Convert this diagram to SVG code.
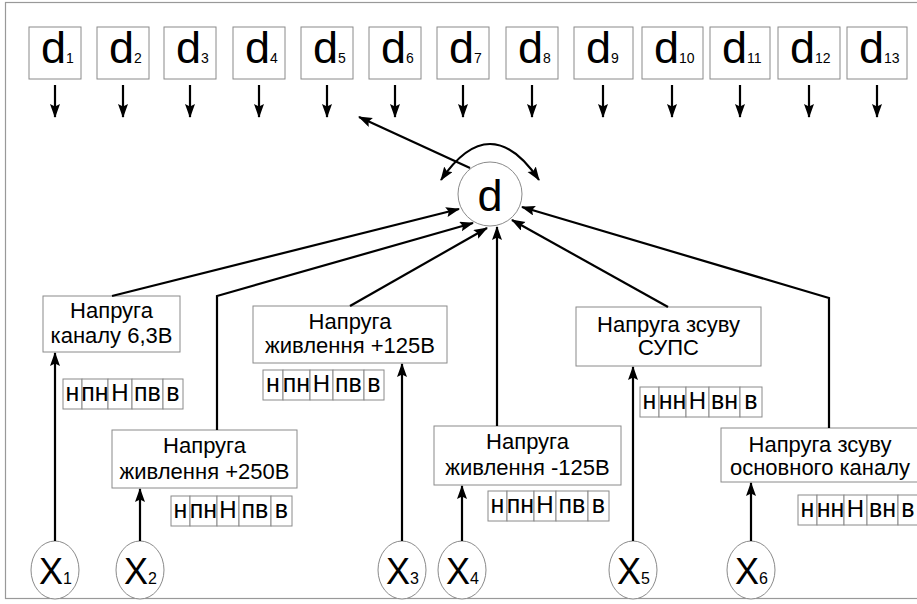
<svg xmlns="http://www.w3.org/2000/svg" width="917" height="604" viewBox="0 0 917 604">
<style>
.frame{fill:#fff;stroke:#999;stroke-width:1.2}
.box{fill:#fff;stroke:#8a8a8a;stroke-width:1}
.cell{fill:#fff;stroke:#8a8a8a;stroke-width:1}
.con{fill:none;stroke:#000;stroke-width:2.2}
.t{font-family:"Liberation Sans",Arial,sans-serif;fill:#000}
.bt{font-size:22px;text-anchor:middle}
.ct{font-size:25px;text-anchor:middle}
.cH{font-size:24px;text-anchor:middle}
.dl{font-size:45px}
.ds{font-size:14px}
.xl{font-size:36px}
.xs{font-size:16px}
</style>
<defs>
<marker id="ah" markerWidth="15" markerHeight="11" refX="13" refY="5" orient="auto-start-reverse" markerUnits="userSpaceOnUse" viewBox="0 0 15 11">
<path d="M0,0 L14,5 L0,10 L2.5,5 Z" fill="#000"/>
</marker>
</defs>
<rect class="frame" x="5.5" y="2.5" width="930" height="596"/>

<g id="d1"><rect class="box" x="29" y="27" width="52" height="52"/><text class="t" x="41" y="63"><tspan class="dl">d</tspan><tspan class="ds">1</tspan></text></g>
<g id="d2"><rect class="box" x="97" y="27" width="52" height="52"/><text class="t" x="109" y="63"><tspan class="dl">d</tspan><tspan class="ds">2</tspan></text></g>
<g id="d3"><rect class="box" x="164" y="27" width="52" height="52"/><text class="t" x="176" y="63"><tspan class="dl">d</tspan><tspan class="ds">3</tspan></text></g>
<g id="d4"><rect class="box" x="233" y="27" width="52" height="52"/><text class="t" x="245" y="63"><tspan class="dl">d</tspan><tspan class="ds">4</tspan></text></g>
<g id="d5"><rect class="box" x="301" y="27" width="52" height="52"/><text class="t" x="313" y="63"><tspan class="dl">d</tspan><tspan class="ds">5</tspan></text></g>
<g id="d6"><rect class="box" x="369" y="27" width="52" height="52"/><text class="t" x="381" y="63"><tspan class="dl">d</tspan><tspan class="ds">6</tspan></text></g>
<g id="d7"><rect class="box" x="437" y="27" width="52" height="52"/><text class="t" x="449" y="63"><tspan class="dl">d</tspan><tspan class="ds">7</tspan></text></g>
<g id="d8"><rect class="box" x="506" y="27" width="52" height="52"/><text class="t" x="518" y="63"><tspan class="dl">d</tspan><tspan class="ds">8</tspan></text></g>
<g id="d9"><rect class="box" x="574" y="27" width="59" height="52"/><text class="t" x="586" y="63"><tspan class="dl">d</tspan><tspan class="ds">9</tspan></text></g>
<g id="d10"><rect class="box" x="642" y="27" width="61" height="52"/><text class="t" x="654" y="63"><tspan class="dl">d</tspan><tspan class="ds">10</tspan></text></g>
<g id="d11"><rect class="box" x="710" y="27" width="60" height="52"/><text class="t" x="722" y="63"><tspan class="dl">d</tspan><tspan class="ds">11</tspan></text></g>
<g id="d12"><rect class="box" x="778" y="27" width="62" height="52"/><text class="t" x="790" y="63"><tspan class="dl">d</tspan><tspan class="ds">12</tspan></text></g>
<g id="d13"><rect class="box" x="847" y="27" width="60" height="52"/><text class="t" x="859" y="63"><tspan class="dl">d</tspan><tspan class="ds">13</tspan></text></g>

<g id="d"><circle cx="490" cy="194" r="32" fill="#fff" stroke="#8a8a8a" stroke-width="1"/><text class="t dl" x="490" y="211" text-anchor="middle">d</text></g>

<g id="boxA"><rect class="box" x="43" y="296" width="137" height="56"/><text class="t bt" x="111.5" y="318">Напруга</text><text class="t bt" x="111.5" y="343">каналу 6,3В</text></g>
<g id="boxB"><rect class="box" x="112" y="430" width="185" height="58"/><text class="t bt" x="204.5" y="453">Напруга</text><text class="t bt" x="204.5" y="479">живлення +250В</text></g>
<g id="boxC"><rect class="box" x="253" y="306" width="194" height="57"/><text class="t bt" x="350" y="329">Напруга</text><text class="t bt" x="350" y="353">живлення +125В</text></g>
<g id="boxD"><rect class="box" x="434" y="426" width="187" height="59"/><text class="t bt" x="527.5" y="449">Напруга</text><text class="t bt" x="527.5" y="475">живлення -125В</text></g>
<g id="boxE"><rect class="box" x="576" y="307" width="185" height="59"/><text class="t bt" x="668.5" y="332">Напруга зсуву</text><text class="t bt" x="668.5" y="355">СУПС</text></g>
<g id="boxF"><rect class="box" x="721" y="428" width="200" height="54"/><text class="t bt" x="820" y="452">Напруга зсуву</text><text class="t bt" x="820" y="475">основного каналу</text></g>

<g id="scaleA"><rect class="cell" x="63" y="379" width="19" height="30"/><rect class="cell" x="82" y="379" width="26" height="30"/><rect class="cell" x="108" y="379" width="24" height="30"/><rect class="cell" x="132" y="379" width="31" height="30"/><rect class="cell" x="163" y="379" width="20" height="30"/>
<text class="t ct" x="72.5" y="401">н</text><text class="t ct" x="95" y="401">пн</text><text class="t cH" x="120" y="401">Н</text><text class="t ct" x="147.5" y="401">пв</text><text class="t ct" x="173" y="401">в</text></g>
<g id="scaleB"><rect class="cell" x="171" y="496" width="19" height="30"/><rect class="cell" x="190" y="496" width="27" height="30"/><rect class="cell" x="217" y="496" width="22" height="30"/><rect class="cell" x="239" y="496" width="32" height="30"/><rect class="cell" x="271" y="496" width="21" height="30"/>
<text class="t ct" x="180.5" y="518">н</text><text class="t ct" x="203.5" y="518">пн</text><text class="t cH" x="228" y="518">Н</text><text class="t ct" x="255" y="518">пв</text><text class="t ct" x="281.5" y="518">в</text></g>
<g id="scaleC"><rect class="cell" x="263" y="370" width="20" height="30"/><rect class="cell" x="283" y="370" width="27" height="30"/><rect class="cell" x="310" y="370" width="23" height="30"/><rect class="cell" x="333" y="370" width="31" height="30"/><rect class="cell" x="364" y="370" width="20" height="30"/>
<text class="t ct" x="273" y="392">н</text><text class="t ct" x="296.5" y="392">пн</text><text class="t cH" x="321.5" y="392">Н</text><text class="t ct" x="348.5" y="392">пв</text><text class="t ct" x="374" y="392">в</text></g>
<g id="scaleD"><rect class="cell" x="488" y="491" width="19" height="30"/><rect class="cell" x="507" y="491" width="27" height="30"/><rect class="cell" x="534" y="491" width="22" height="30"/><rect class="cell" x="556" y="491" width="32" height="30"/><rect class="cell" x="588" y="491" width="21" height="30"/>
<text class="t ct" x="497.5" y="513">н</text><text class="t ct" x="520.5" y="513">пн</text><text class="t cH" x="545" y="513">Н</text><text class="t ct" x="572" y="513">пв</text><text class="t ct" x="598.5" y="513">в</text></g>
<g id="scaleE"><rect class="cell" x="640" y="387" width="19" height="30"/><rect class="cell" x="659" y="387" width="27" height="30"/><rect class="cell" x="686" y="387" width="23" height="30"/><rect class="cell" x="709" y="387" width="31" height="30"/><rect class="cell" x="740" y="387" width="22" height="30"/>
<text class="t ct" x="649.5" y="409">н</text><text class="t ct" x="672.5" y="409">нн</text><text class="t cH" x="697.5" y="409">Н</text><text class="t ct" x="724.5" y="409">вн</text><text class="t ct" x="751" y="409">в</text></g>
<g id="scaleF"><rect class="cell" x="798" y="495" width="19" height="30"/><rect class="cell" x="817" y="495" width="27" height="30"/><rect class="cell" x="844" y="495" width="23" height="30"/><rect class="cell" x="867" y="495" width="31" height="30"/><rect class="cell" x="898" y="495" width="22" height="30"/>
<text class="t ct" x="807.5" y="517">н</text><text class="t ct" x="830.5" y="517">нн</text><text class="t cH" x="855.5" y="517">Н</text><text class="t ct" x="882.5" y="517">вн</text><text class="t ct" x="908" y="517">в</text></g>

<g id="x1"><ellipse cx="55" cy="570" rx="24" ry="29" fill="#fff" stroke="#8a8a8a"/><text class="t" x="39" y="584"><tspan class="xl">X</tspan><tspan class="xs">1</tspan></text></g>
<g id="x2"><ellipse cx="140" cy="570" rx="24" ry="29" fill="#fff" stroke="#8a8a8a"/><text class="t" x="124" y="584"><tspan class="xl">X</tspan><tspan class="xs">2</tspan></text></g>
<g id="x3"><ellipse cx="402" cy="570" rx="24" ry="29" fill="#fff" stroke="#8a8a8a"/><text class="t" x="386" y="584"><tspan class="xl">X</tspan><tspan class="xs">3</tspan></text></g>
<g id="x4"><ellipse cx="462" cy="570" rx="24" ry="29" fill="#fff" stroke="#8a8a8a"/><text class="t" x="446" y="584"><tspan class="xl">X</tspan><tspan class="xs">4</tspan></text></g>
<g id="x5"><ellipse cx="633" cy="570" rx="24" ry="29" fill="#fff" stroke="#8a8a8a"/><text class="t" x="617" y="584"><tspan class="xl">X</tspan><tspan class="xs">5</tspan></text></g>
<g id="x6"><ellipse cx="751" cy="570" rx="24" ry="29" fill="#fff" stroke="#8a8a8a"/><text class="t" x="735" y="584"><tspan class="xl">X</tspan><tspan class="xs">6</tspan></text></g>

<g id="connectors" class="con" marker-end="url(#ah)">
<path d="M55,85 V117"/><path d="M123,85 V117"/><path d="M190,85 V117"/><path d="M259,85 V117"/><path d="M327,85 V117"/><path d="M395,85 V117"/><path d="M463,85 V117"/><path d="M532,85 V117"/><path d="M603,85 V117"/><path d="M672,85 V117"/><path d="M740,85 V117"/><path d="M809,85 V117"/><path d="M877,85 V117"/>
<path d="M470,168 L359,117"/>
<path d="M441,180 Q490,108 539,180" marker-start="url(#ah)"/>
<path d="M112,296 L459,209"/>
<path d="M217,430 V296 L473,223"/>
<path d="M350,306 L487,228"/>
<path d="M497,426 V227"/>
<path d="M668,307 L512,220"/>
<path d="M829,428 V298 L522,207"/>
<path d="M55,541 V353"/>
<path d="M140,541 V489"/>
<path d="M402,541 V364"/>
<path d="M462,541 V486"/>
<path d="M633,541 V367"/>
<path d="M751,541 V483"/>
</g>
</svg>
